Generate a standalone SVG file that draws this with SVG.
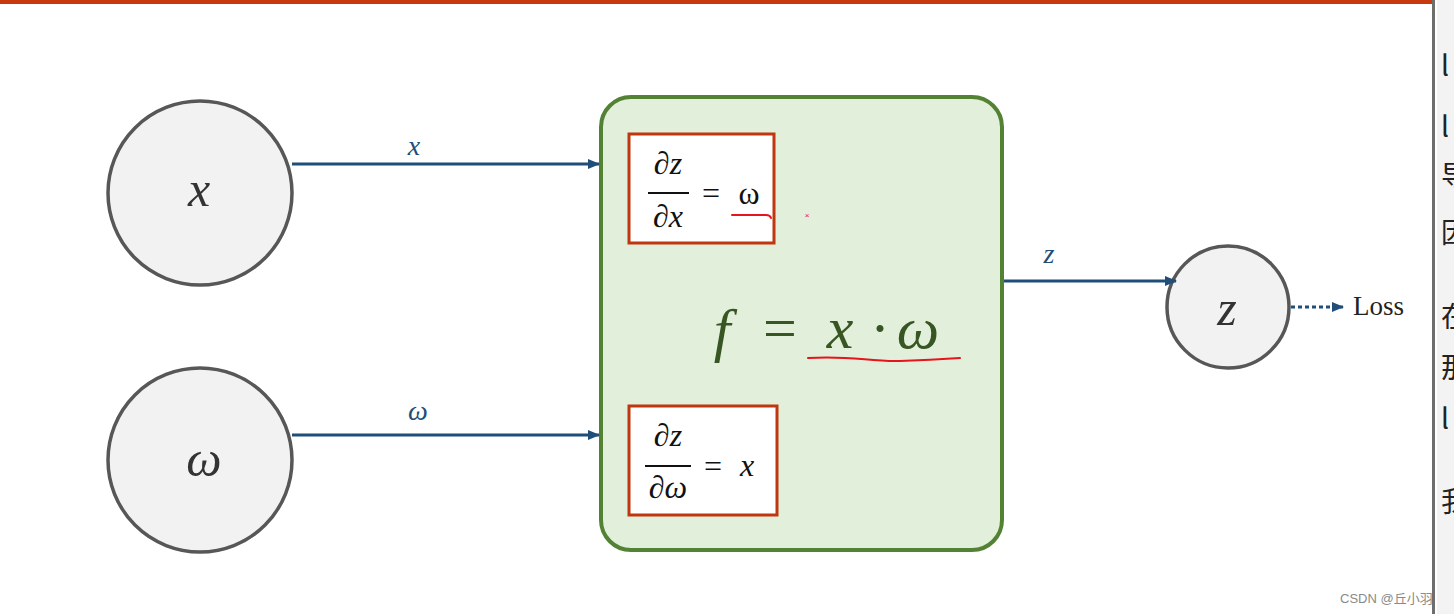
<svg xmlns="http://www.w3.org/2000/svg" width="1454" height="614" viewBox="0 0 1454 614">
<style>
.node{fill:#F2F2F2;stroke:#575757;stroke-width:3.5}
.math{font-family:"Liberation Serif","DejaVu Serif",serif;font-style:italic}
.lbl{fill:#1F4E79;font-size:28px}
.nlbl{fill:#333;font-size:50px}
.conn{stroke:#1F4E79;stroke-width:3;fill:none}
.rbox{fill:#fff;stroke:#C0360E;stroke-width:3}
.frac{font-family:"Liberation Serif","DejaVu Serif",serif;font-size:32px;fill:#111}
.big{font-family:"Liberation Serif","DejaVu Serif",serif;font-size:60px;fill:#375623}
.ink{stroke:#E8141B;stroke-width:2;fill:none;stroke-linecap:round}
.side{font-family:"Noto Sans CJK SC","Liberation Sans",sans-serif;font-size:28px;fill:#222}
</style>
<defs>
<marker id="ah" markerWidth="12" markerHeight="12" refX="11" refY="6" orient="auto" markerUnits="userSpaceOnUse">
<path d="M0,1 L12,6 L0,11 z" fill="#1F4E79"/>
</marker>
<clipPath id="sideclip"><rect x="1437" y="0" width="17" height="614"/></clipPath>
</defs>
<rect width="1454" height="614" fill="#fff"/>
<rect x="0" y="0" width="1432" height="4" fill="#C8390E"/>
<rect x="1437" y="0" width="17" height="614" fill="#F3F3F3"/>
<rect x="1432" y="0" width="3" height="614" fill="#6E6E6E"/>
<g clip-path="url(#sideclip)">
<text class="side" x="1441" y="76">l</text>
<text class="side" x="1441" y="137">l</text>
<text class="side" x="1441" y="186">导</text>
<text class="side" x="1441" y="243">因</text>
<text class="side" x="1441" y="327">在</text>
<text class="side" x="1441" y="378">那</text>
<text class="side" x="1441" y="429">l</text>
<text class="side" x="1441" y="512">我</text>
</g>

<g id="node-x">
<circle class="node" cx="200" cy="193" r="92"/>
<text class="math nlbl" x="199" y="206" text-anchor="middle">x</text>
</g>
<g id="node-w">
<circle class="node" cx="200" cy="460" r="92"/>
<text class="math nlbl" x="204" y="476" text-anchor="middle">ω</text>
</g>
<g id="node-f">
<rect x="601" y="97" width="401" height="453" rx="30" fill="#E2EFDA" stroke="#548235" stroke-width="4"/>
<rect class="rbox" x="629" y="134" width="145" height="109"/>
<text class="frac" x="668" y="174" text-anchor="middle">∂<tspan font-style="italic">z</tspan></text>
<line x1="648" y1="193" x2="689" y2="193" stroke="#111" stroke-width="2"/>
<text class="frac" x="668" y="227" text-anchor="middle">∂<tspan font-style="italic">x</tspan></text>
<text class="frac" x="711" y="204" text-anchor="middle" font-size="36">=</text>
<text class="frac" x="749" y="204" text-anchor="middle">ω</text>
<path class="ink" d="M732,215 L766,215 Q770,215 771,218"/>
<text x="807" y="218" font-family="Liberation Sans,sans-serif" font-size="8" fill="#E8141B" text-anchor="middle">×</text>
<rect class="rbox" x="629" y="406" width="148" height="109"/>
<text class="frac" x="668" y="446" text-anchor="middle">∂<tspan font-style="italic">z</tspan></text>
<line x1="645" y1="466" x2="691" y2="466" stroke="#111" stroke-width="2"/>
<text class="frac" x="668" y="498" text-anchor="middle">∂<tspan font-style="italic">ω</tspan></text>
<text class="frac" x="713" y="477" text-anchor="middle" font-size="36">=</text>
<text class="frac" x="747" y="476" text-anchor="middle" font-style="italic">x</text>
<text class="big" x="722" y="350" text-anchor="middle" font-style="italic">f</text>
<text class="big" x="780" y="348" text-anchor="middle">=</text>
<text class="big" x="840" y="348" text-anchor="middle" font-style="italic">x</text>
<text class="big" x="880" y="348" text-anchor="middle">·</text>
<text class="big" x="918" y="348" text-anchor="middle" font-style="italic">ω</text>
<path class="ink" d="M808,358 C850,355 870,362 900,361 C930,360 945,359 960,358"/>
</g>
<g id="node-z">
<circle class="node" cx="1228" cy="307" r="61"/>
<text class="math nlbl" x="1227" y="325" text-anchor="middle">z</text>
</g>
<g id="node-loss">
<text x="1353" y="315" font-family="Liberation Serif,serif" font-size="27" fill="#222">Loss</text>
</g>
<g id="connectors">
<line class="conn" x1="292" y1="164" x2="599" y2="164" marker-end="url(#ah)"/>
<text class="math lbl" x="414" y="155" text-anchor="middle">x</text>
<line class="conn" x1="292" y1="435" x2="599" y2="435" marker-end="url(#ah)"/>
<text class="math lbl" x="418" y="420" text-anchor="middle">ω</text>
<line class="conn" x1="1004" y1="281" x2="1176" y2="281" marker-end="url(#ah)"/>
<text class="math lbl" x="1049" y="263" text-anchor="middle">z</text>
<line class="conn" x1="1291" y1="307" x2="1343" y2="307" stroke-dasharray="4,3" stroke-width="4" marker-end="url(#ah)"/>
</g>
<text x="1340" y="603" font-family="Liberation Sans,Noto Sans CJK SC,sans-serif" font-size="13" fill="#8A8A8A">CSDN @丘小羽</text>
</svg>
